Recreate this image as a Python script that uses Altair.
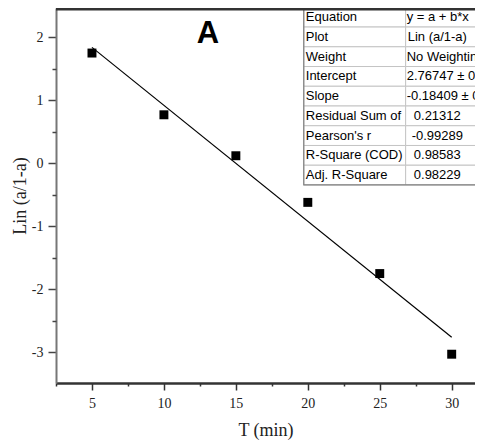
import altair as alt
import pandas as pd

# ---- data ----
t_vals = [5, 10, 15, 20, 25, 30]
y_vals = [1.75, 0.77, 0.12, -0.62, -1.75, -3.03]

x_ticks = [5, 10, 15, 20, 25, 30]
x_minor = [2.5, 7.5, 12.5, 17.5, 22.5, 27.5]
y_ticks = [-3, -2, -1, 0, 1, 2]
y_minor = [-2.5, -1.5, -0.5, 0.5, 1.5]

tbl_labels = ["Equation", "Plot", "Weight", "Intercept", "Slope",
              "Residual Sum of", "Pearson's r", "R-Square (COD)", "Adj. R-Square"]
tbl_values = ["y = a + b*x", "Lin (a/1-a)", "No Weightin", "2.76747 \u00b1 0.",
              "-0.18409 \u00b1 0.", "0.21312", "-0.99289", "0.98583", "0.98229"]
tbl_long = [True, False, True, True, True, False, False, False, False]

panel_label = "A"

# ---- layout constants (data units) ----
X_DOM = [2.5, 31.62]
Y_DOM = [-3.487, 2.465]
T_LEFT, T_DIV, T_RIGHT = 19.72, 26.8, 33.5
T_TOP = 2.476
ROW_H = 0.3133

pts = pd.DataFrame({"t": t_vals, "v": y_vals})

rows = []
for i, (lab, val, lng) in enumerate(zip(tbl_labels, tbl_values, tbl_long)):
    top = T_TOP - i * ROW_H
    bot = top - ROW_H
    rows.append({"x": T_LEFT, "x2": T_DIV, "y": bot, "y2": top,
                 "lab": lab, "val": val, "long": lng,
                 "ym": (top + bot) / 2})
    rows.append({"x": T_DIV, "x2": T_RIGHT, "y": bot, "y2": top,
                 "lab": lab, "val": val, "long": lng,
                 "ym": (top + bot) / 2})
cells = pd.DataFrame(rows)
trows = cells.iloc[::2].reset_index(drop=True)

xs = alt.Scale(domain=X_DOM, nice=False, zero=False)
ys = alt.Scale(domain=Y_DOM, nice=False, zero=False)

serif = "Liberation Serif"
sans = "Liberation Sans"
hyphen = "replace(datum.label, '\u2212', '-')"

x_axis = alt.Axis(values=x_ticks, title="T (min)", grid=False, tickSize=7,
                  tickWidth=1.5, tickColor="#333", domainColor="#333",
                  domainWidth=2.5, labelFont=serif, labelFontSize=14,
                  labelColor="#222", labelPadding=6, titleFont=serif,
                  titleFontSize=18, titleFontWeight="normal", titleColor="#222",
                  titlePadding=11)
y_axis = alt.Axis(values=y_ticks, title="Lin (a/1-a)", grid=False, tickSize=8,
                  tickWidth=1.5, tickColor="#444", domainColor="#777",
                  domainWidth=2, labelFont=serif, labelFontSize=14,
                  labelColor="#222", labelPadding=5, labelExpr=hyphen,
                  titleFont=serif, titleFontSize=18, titleFontWeight="normal",
                  titleColor="#222", titlePadding=2)

points = alt.Chart(pts).mark_square(size=80, color="black", opacity=1).encode(
    x=alt.X("t:Q", scale=xs, axis=x_axis),
    y=alt.Y("v:Q", scale=ys, axis=y_axis),
)

minor = alt.Chart(pts).mark_point(opacity=0).encode(
    x=alt.X("t:Q", scale=xs, axis=alt.Axis(values=x_minor, labels=False, title=None,
                                          domain=False, grid=False, tickSize=3,
                                          tickWidth=1.5, tickColor="#333", orient="bottom")),
    y=alt.Y("v:Q", scale=ys, axis=alt.Axis(values=y_minor, labels=False, title=None,
                                          domain=False, grid=False, tickSize=4,
                                          tickWidth=1.5, tickColor="#444", orient="left")),
)

fit = alt.Chart(pts).transform_regression("t", "v").mark_line(
    color="black", strokeWidth=1.2).encode(
    x=alt.X("t:Q", scale=xs), y=alt.Y("v:Q", scale=ys))

top_rule = alt.Chart(pd.DataFrame({"a": [X_DOM[0]], "b": [X_DOM[1]], "c": [Y_DOM[1]]})).mark_rule(
    color="#333", strokeWidth=5).encode(
    x=alt.X("a:Q", scale=xs), x2="b:Q", y=alt.Y("c:Q", scale=ys))

cell_rects = alt.Chart(cells).mark_rect(
    fill="white", stroke="#c4c4c4", strokeWidth=1, clip=True).encode(
    x=alt.X("x:Q", scale=xs), x2="x2:Q", y=alt.Y("y:Q", scale=ys), y2="y2:Q")

outer = alt.Chart(pd.DataFrame({"x": [T_LEFT], "x2": [T_RIGHT],
                                "y": [T_TOP - ROW_H * len(tbl_labels)], "y2": [T_TOP]})).mark_rect(
    fill=None, stroke="#808080", strokeWidth=1.2, clip=True).encode(
    x=alt.X("x:Q", scale=xs), x2="x2:Q", y=alt.Y("y:Q", scale=ys), y2="y2:Q")

lab_text = alt.Chart(trows).mark_text(
    align="left", baseline="middle", font=sans, fontSize=13, color="black", dx=2).encode(
    x=alt.X("x:Q", scale=xs), y=alt.Y("ym:Q", scale=ys), text="lab:N")

val_left = alt.Chart(trows).transform_filter("datum.long").mark_text(
    align="left", baseline="middle", font=sans, fontSize=13, color="black", dx=1,
    clip=True).encode(
    x=alt.X("x2:Q", scale=xs), y=alt.Y("ym:Q", scale=ys), text="val:N")

val_center = alt.Chart(trows).transform_filter("!datum.long").transform_calculate(
    cx=f"{T_DIV} + 2.2").mark_text(
    align="center", baseline="middle", font=sans, fontSize=13, color="black").encode(
    x=alt.X("cx:Q", scale=xs), y=alt.Y("ym:Q", scale=ys), text="val:N")

label_a = alt.Chart(pd.DataFrame({"x": [13.06], "y": [1.91], "s": [panel_label]})).mark_text(
    align="center", baseline="alphabetic", font=sans, fontSize=31, fontWeight="bold",
    color="black").encode(
    x=alt.X("x:Q", scale=xs), y=alt.Y("y:Q", scale=ys), text="s:N")

chart = alt.layer(
    points, minor, fit, cell_rects, outer, top_rule, lab_text, val_left, val_center, label_a
).resolve_axis(x="independent", y="independent").properties(
    width=419, height=375,
    autosize=alt.AutoSizeParams(type="none"),
    padding={"left": 48, "top": 0, "right": 0, "bottom": 57},
    background="white",
).configure_view(stroke=None)

chart.save("out.html", embed_options={"renderer": "svg", "actions": False})
